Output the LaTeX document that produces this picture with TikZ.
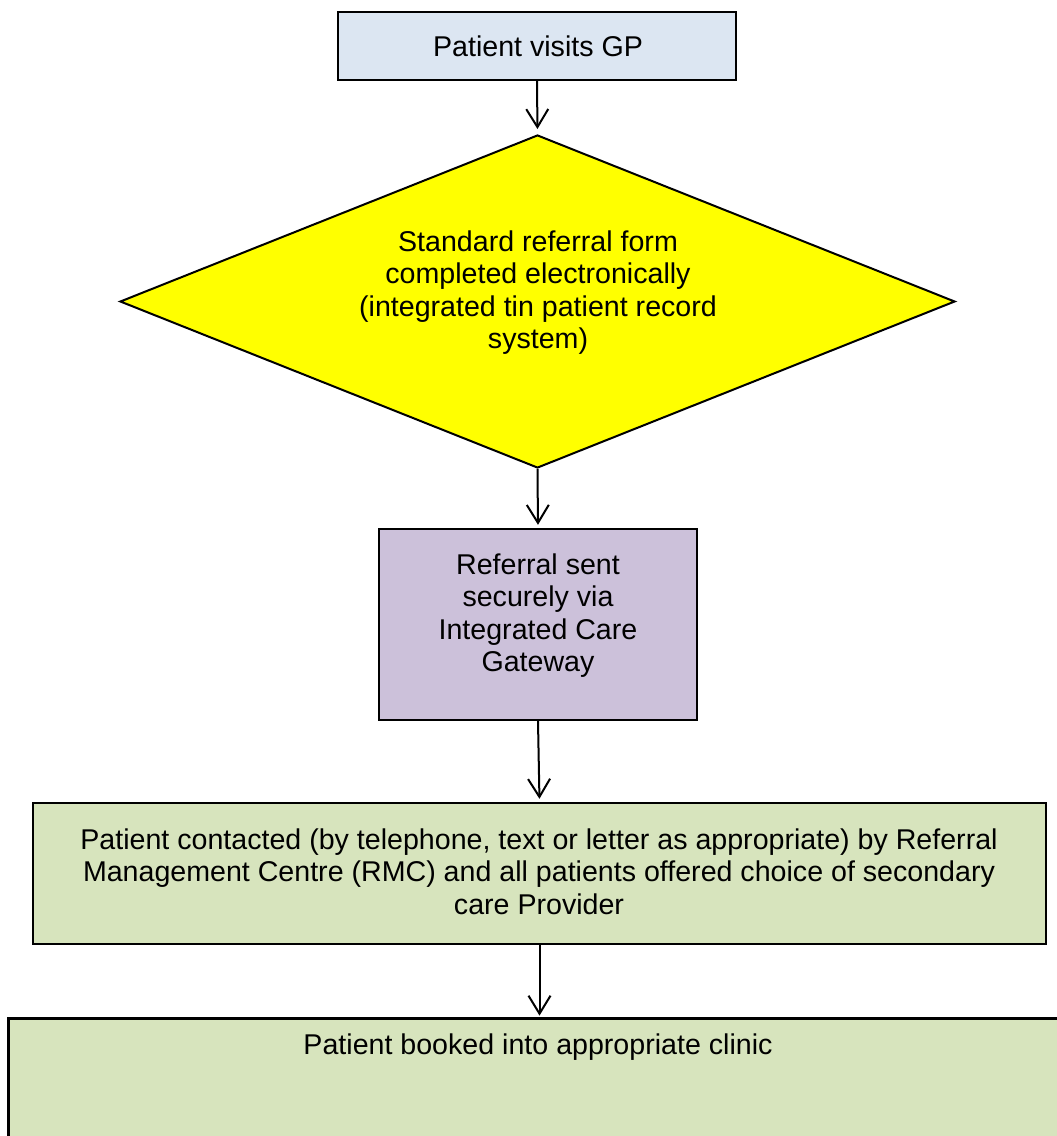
\documentclass[tikz,border=0pt]{standalone}
\usepackage{fontspec}
\setmainfont{Liberation Sans}
\usetikzlibrary{arrows.meta,shapes.geometric}
\definecolor{boxblue}{HTML}{DCE6F2}
\definecolor{boxyellow}{HTML}{FFFF00}
\definecolor{boxpurple}{HTML}{CCC1DA}
\definecolor{boxgreen}{HTML}{D7E4BD}
\begin{document}
\begin{tikzpicture}[x=0.5pt,y=-0.5pt,
  shapebox/.style={draw=black,line width=1.2pt,rectangle,inner sep=0pt},
  txt/.style={align=center,font=\fontsize{14.3pt}{16.3pt}\selectfont,inner sep=0pt},
  arr/.style={line width=1pt,-{Straight Barb[length=9pt,width=11pt,line width=1pt]},shorten >=1.5pt}]
\useasboundingbox (0,0) rectangle (1056,1136);
\node[shapebox,fill=boxblue,minimum width=199pt,minimum height=34pt] (b1) at (537,46) {};
\node[shapebox,diamond,fill=boxyellow,line width=1pt,minimum width=417.5pt,minimum height=166.5pt] (dia) at (537.5,301.5) {};
\node[shapebox,fill=boxpurple,minimum width=159pt,minimum height=95.5pt] (b3) at (538,624.5) {};
\node[shapebox,fill=boxgreen,minimum width=506.5pt,minimum height=70.5pt] (b4) at (539.5,873.5) {};
\node[rectangle,inner sep=0pt,fill=boxgreen,minimum width=535pt,minimum height=62pt] (b5) at (544,1081) {};
\draw[line width=1.2pt] (b5.south west) -- (b5.north west) -- (b5.north east);
\node[txt] (t1) at (538,46) {Patient visits GP};
\node[txt] (t2) at (538,292.5) {Standard referral form\\completed electronically\\(integrated tin patient record\\system)};
\node[txt] (t3) at (538,615.5) {Referral sent\\securely via\\Integrated Care\\Gateway};
\node[txt] (t4) at (539,871.5) {Patient contacted (by telephone, text or letter as appropriate) by Referral\\Management Centre (RMC) and all patients offered choice of secondary\\care Provider};
\node[txt] (t5) at (538,1047) {Patient booked into appropriate clinic};
\draw[arr,shorten >=2.5pt] (b1.south) -- (dia.north);
\draw[arr] (dia.south) -- (b3.north);
\draw[arr] (b3.south) -- (b4.north);
\draw[arr] (b4.south) -- (b5.north -| b4.south);
\end{tikzpicture}
\end{document}
